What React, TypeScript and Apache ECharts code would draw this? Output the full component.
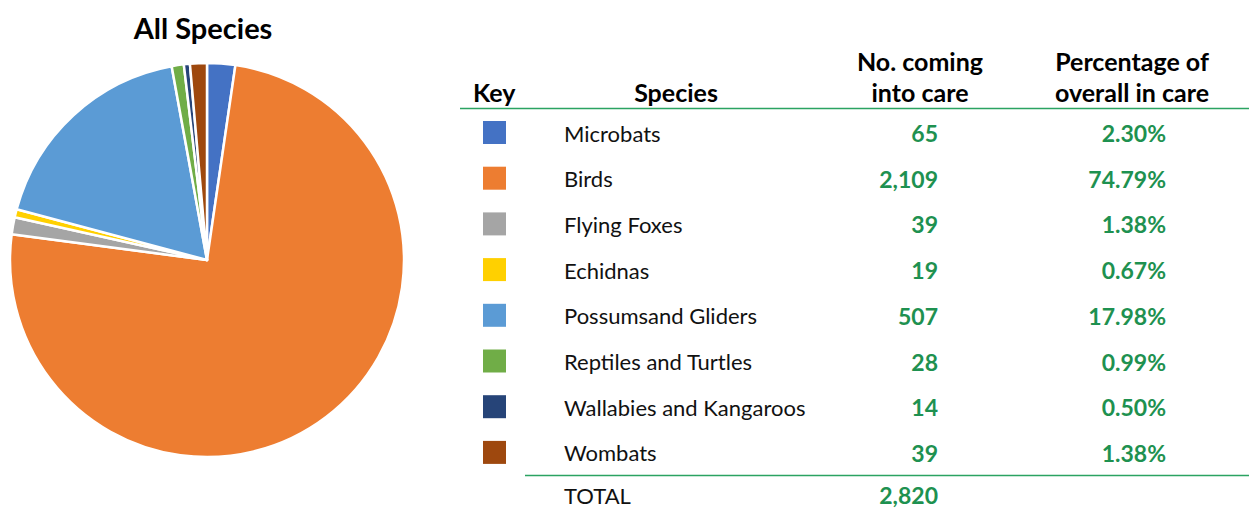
import React, { useEffect, useRef } from "react";
import * as echarts from "echarts";

const species = [
  "Microbats",
  "Birds",
  "Flying Foxes",
  "Echidnas",
  "Possumsand Gliders",
  "Reptiles and Turtles",
  "Wallabies and Kangaroos",
  "Wombats",
];
const counts = [65, 2109, 39, 19, 507, 28, 14, 39];
const percents = [2.3, 74.79, 1.38, 0.67, 17.98, 0.99, 0.5, 1.38];
const totalCount = 2820;
const colors = ["#4472C4", "#ED7D31", "#A5A5A5", "#FFD000", "#5B9BD5", "#70AD47", "#264478", "#9E480E"];
const chartTitle = "All Species";
const headerKey = "Key";
const headerSpecies = "Species";
const headerCount = ["No. coming", "into care"];
const headerPct = ["Percentage of", "overall in care"];
const totalLabel = "TOTAL";

const FONT = "Lato, 'Open Sans', sans-serif";
const GREEN = "#1E9150";
const LINE_GREEN = "#2BA362";

export default function App() {
  const ref = useRef<HTMLDivElement>(null);
  useEffect(() => {
    document.body.style.margin = "0";
    const chart = echarts.init(ref.current!, null, { renderer: "svg" });
    const rowY0 = 133;
    const step = 45.7;
    const g: any[] = [];
    g.push({
      type: "text",
      x: 203,
      y: 27,
      style: { text: chartTitle, font: `bold 29px ${FONT}`, fill: "#000", align: "center", verticalAlign: "middle" },
    });
    const hFont = `bold 25px ${FONT}`;
    g.push({ type: "text", x: 473, y: 92, style: { text: headerKey, font: hFont, fill: "#000", align: "left", verticalAlign: "middle" } });
    g.push({ type: "text", x: 676, y: 92, style: { text: headerSpecies, font: hFont, fill: "#000", align: "center", verticalAlign: "middle" } });
    headerCount.forEach((t, i) =>
      g.push({ type: "text", x: 920, y: 61 + i * 31, style: { text: t, font: hFont, fill: "#000", align: "center", verticalAlign: "middle" } })
    );
    headerPct.forEach((t, i) =>
      g.push({ type: "text", x: 1132, y: 61 + i * 31, style: { text: t, font: hFont, fill: "#000", align: "center", verticalAlign: "middle" } })
    );
    g.push({ type: "line", shape: { x1: 460, y1: 108.5, x2: 1249, y2: 108.5 }, style: { stroke: LINE_GREEN, lineWidth: 1.5 } });
    species.forEach((s, i) => {
      const y = rowY0 + i * step;
      g.push({ type: "rect", shape: { x: 483, y: y - 12, width: 23, height: 23 }, style: { fill: colors[i] } });
      g.push({ type: "text", x: 564, y, style: { text: s, font: `22px ${FONT}`, fill: "#111", align: "left", verticalAlign: "middle" } });
      g.push({
        type: "text",
        x: 938,
        y,
        style: { text: counts[i].toLocaleString("en-US"), font: `bold 23px ${FONT}`, fill: GREEN, align: "right", verticalAlign: "middle" },
      });
      g.push({
        type: "text",
        x: 1166,
        y,
        style: { text: percents[i].toFixed(2) + "%", font: `bold 23px ${FONT}`, fill: GREEN, align: "right", verticalAlign: "middle" },
      });
    });
    g.push({ type: "line", shape: { x1: 525, y1: 475.5, x2: 1249, y2: 475.5 }, style: { stroke: LINE_GREEN, lineWidth: 1.5 } });
    g.push({ type: "text", x: 564, y: 495, style: { text: totalLabel, font: `22px ${FONT}`, fill: "#111", align: "left", verticalAlign: "middle" } });
    g.push({
      type: "text",
      x: 938,
      y: 495,
      style: { text: totalCount.toLocaleString("en-US"), font: `bold 23px ${FONT}`, fill: GREEN, align: "right", verticalAlign: "middle" },
    });

    chart.setOption({
      animation: false,
      backgroundColor: "#fff",
      series: [
        {
          type: "pie",
          center: [207, 260],
          radius: 197,
          startAngle: 90,
          clockwise: true,
          label: { show: false },
          labelLine: { show: false },
          emphasis: { disabled: true },
          itemStyle: { borderColor: "#fff", borderWidth: 2.5 },
          data: species.map((s, i) => ({ name: s, value: counts[i], itemStyle: { color: colors[i] } })),
        },
      ],
      graphic: g,
    });
    return () => chart.dispose();
  }, []);
  return <div ref={ref} style={{ width: 1254, height: 509 }} />;
}
